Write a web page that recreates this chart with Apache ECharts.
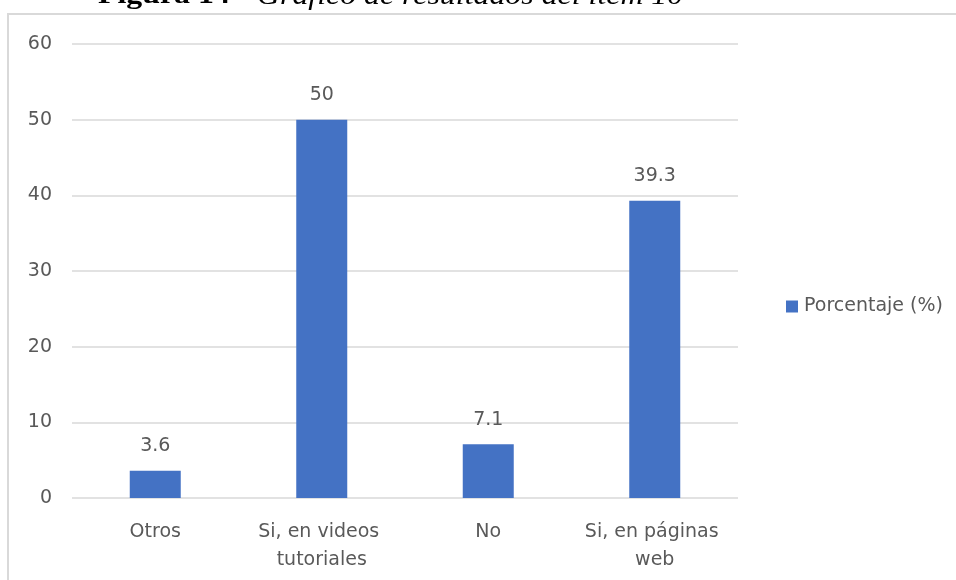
<!DOCTYPE html>
<html>
<head>
<meta charset="utf-8">
<script src="https://cdn.jsdelivr.net/npm/echarts@6/dist/echarts.min.js"></script>
<style>html,body{margin:0;padding:0;background:#fff;overflow:hidden}#c{width:956px;height:580px}</style>
</head>
<body>
<div id="c"></div>
<script>
const categories = ['Otros', 'Si, en videos tutoriales', 'No', 'Si, en páginas web'];
const values = [3.6, 50, 7.1, 39.3];
const seriesName = 'Porcentaje (%)';
const yTicks = { min: 0, max: 60, interval: 10 };
const titleBold = 'Figura 14 -';
const titleItalic = 'Gráfico de resultados del ítem 10';

const chart = echarts.init(document.getElementById('c'));
const txt = '#595959';
const font = 'DejaVu Sans';
chart.setOption({
  animation: false,
  backgroundColor: '#fff',
  textStyle: { fontFamily: font },
  graphic: [
    { type: 'line', shape: { x1: 8, y1: 14, x2: 8, y2: 600 }, style: { stroke: '#d9d9d9', lineWidth: 2 }, silent: true },
    { type: 'line', shape: { x1: 7, y1: 14, x2: 960, y2: 14 }, style: { stroke: '#d9d9d9', lineWidth: 2 }, silent: true },
    { type: 'text', x: 98, y: -17, scaleX: 1.18, style: { text: titleBold, font: 'bold 27px "Liberation Serif"', fill: '#000' } },
    { type: 'text', x: 257, y: -17, scaleX: 1.18, style: { text: titleItalic, font: 'italic 27px "Liberation Serif"', fill: '#000' } }
  ],
  grid: { left: 72, right: 218, top: 44, bottom: 82, containLabel: false },
  legend: {
    show: true, data: [seriesName], left: 781, top: 292, orient: 'vertical',
    itemWidth: 12, itemHeight: 12, itemGap: 6, icon: 'rect',
    textStyle: { color: txt, fontSize: 19, fontFamily: font, padding: [0, 0, 0, 1] }
  },
  xAxis: {
    type: 'category', data: categories,
    axisLine: { show: false }, axisTick: { show: false },
    axisLabel: { color: txt, fontSize: 19, fontFamily: font, margin: 20, lineHeight: 28, width: 150, overflow: 'break', interval: 0 }
  },
  yAxis: {
    type: 'value', min: yTicks.min, max: yTicks.max, interval: yTicks.interval,
    axisLine: { show: false }, axisTick: { show: false },
    axisLabel: { color: txt, fontSize: 19, fontFamily: font, margin: 20 },
    splitLine: { lineStyle: { color: '#d9d9d9', width: 1.5 } }
  },
  series: [{
    name: seriesName, type: 'bar', data: values, barWidth: 51,
    itemStyle: { color: '#4472C4' },
    label: { show: true, position: 'top', distance: 15, color: txt, fontSize: 19, fontFamily: font }
  }]
});
</script>
</body>
</html>
